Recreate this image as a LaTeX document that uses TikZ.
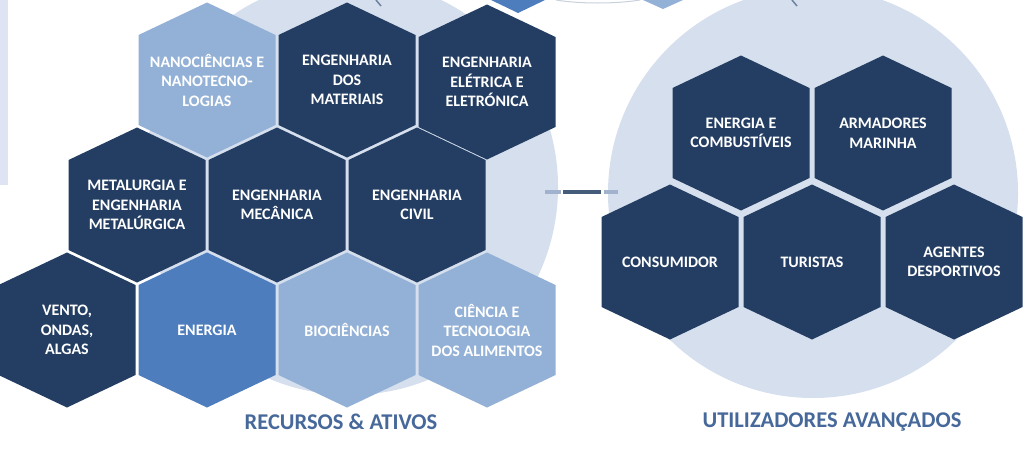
\documentclass[tikz,border=0pt]{standalone}
\usepackage{fontspec}
\setmainfont{Carlito}
\usetikzlibrary{positioning}
\definecolor{hexdark}{RGB}{36,62,99}
\definecolor{hexmid}{RGB}{78,125,190}
\definecolor{hexlight}{RGB}{147,177,214}
\definecolor{bgcircle}{RGB}{213,223,237}
\definecolor{bgstrip}{RGB}{222,228,243}
\definecolor{labelblue}{RGB}{70,104,154}
\definecolor{dashlight}{RGB}{160,178,205}
\definecolor{tickgrey}{RGB}{110,130,160}

\begin{document}
\begin{tikzpicture}[x=1pt,y=-1pt,
  hextext/.style={text=white,align=center,inner sep=0pt,
    font=\bfseries\fontsize{16}{19.5}\selectfont},
  grouplabel/.style={text=labelblue,inner sep=0pt,
    font=\bfseries\fontsize{22.5}{27}\selectfont},
  bigcircle/.style={circle,fill=bgcircle,inner sep=0pt},
  linkdark/.style={draw=hexdark!85,line width=4pt},
  linklight/.style={draw=dashlight,line width=4pt}]
\useasboundingbox (0,0) rectangle (1024,453);
\fill[white] (0,0) rectangle (1024,453);
\fill[bgstrip] (0,0) rectangle (8,185);

% background circles
\node[bigcircle,minimum size=416pt] (res) at (350,187) {};
\node[bigcircle,minimum size=410pt] (usr) at (813,193) {};

% fragments cut off at the top
\fill[hexmid] (491,0) -- (518,13) -- (545,0) -- cycle;
\fill[hexlight] (643,0) -- (663,9) -- (683,0) -- cycle;
\draw[bgcircle!85!gray,line width=1pt] (556,0) .. controls (580,4) and (615,4) .. (640,0);
\draw[tickgrey,line width=1.5pt] (376,0) -- (381,6);
\draw[tickgrey,line width=1.5pt] (792,0) -- (797,6);

% resources
\foreach \n/\x/\y/\c/\t in {
  nano/207/80/hexlight/{NANOCIÊNCIAS E\\NANOTECNO-\\LOGIAS},
  materiais/347/80/hexdark/{ENGENHARIA\\DOS\\MATERIAIS},
  eletrica/487/82/hexdark/{ENGENHARIA\\ELÉTRICA E\\ELETRÓNICA},
  metalurgia/137/205/hexdark/{METALURGIA E\\ENGENHARIA\\METALÚRGICA},
  mecanica/277/205/hexdark/{ENGENHARIA\\MECÂNICA},
  civil/417/205/hexdark/{ENGENHARIA\\CIVIL},
  vento/67/330/hexdark/{VENTO,\\ONDAS,\\ALGAS},
  energia/207/330/hexmid/{ENERGIA},
  bio/347/330/hexlight/{BIOCIÊNCIAS},
  alimentos/487/330/hexlight/{CIÊNCIA E\\TECNOLOGIA\\DOS ALIMENTOS}}{
  \fill[\c,shift={(\x,\y)}] (0,-77.5) -- (68.5,-45) -- (68.5,45) -- (0,77.5)
    -- (-68.5,45) -- (-68.5,-45) -- cycle;
  \node[hextext] (\n) at (\x,\y) {\t};
}

% users
\foreach \n/\x/\y/\t in {
  combustiveis/741/133/{ENERGIA E\\COMBUSTÍVEIS},
  armadores/883/133/{ARMADORES\\MARINHA},
  consumidor/670/262/{CONSUMIDOR},
  turistas/812/262/{TURISTAS},
  desportivos/954/262/{AGENTES\\DESPORTIVOS}}{
  \fill[hexdark,shift={(\x,\y)}] (0,-77.5) -- (68.5,-45) -- (68.5,45) -- (0,77.5)
    -- (-68.5,45) -- (-68.5,-45) -- cycle;
  \node[hextext] (\n) at (\x,\y) {\t};
}

% link between the groups
\coordinate (d0) at (545,192);
\coordinate (d1) at (561,192);
\coordinate (d2) at (563,192);
\coordinate (d3) at (601,192);
\coordinate (d4) at (604,192);
\coordinate (d5) at (618,192);
\draw[linklight] (d0) -- (d1);
\draw[linkdark] (d2) -- (d3);
\draw[linklight] (d4) -- (d5);

\node[grouplabel] (reslabel) at (341,422) {RECURSOS \& ATIVOS};
\node[grouplabel] (usrlabel) at (832,422) {UTILIZADORES AVANÇADOS};
\end{tikzpicture}
\end{document}
